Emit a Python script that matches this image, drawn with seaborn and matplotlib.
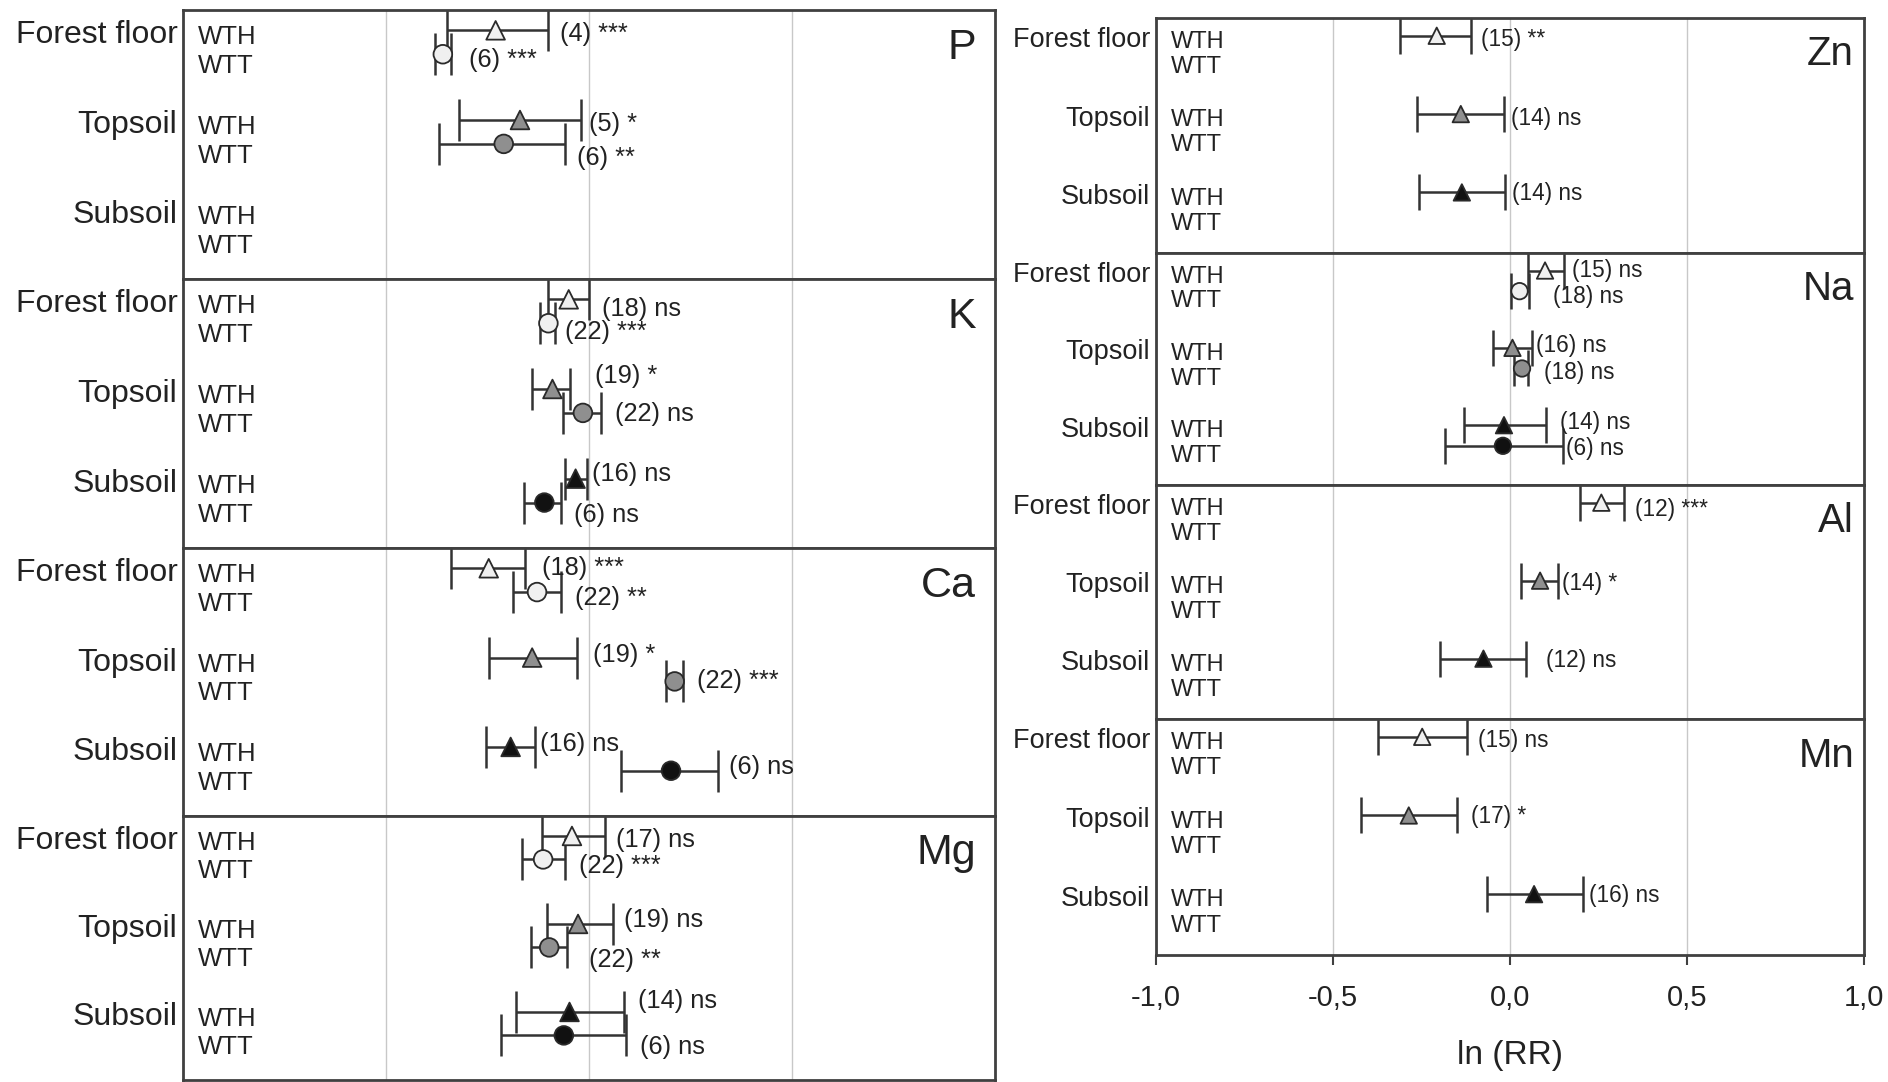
import numpy as np
import pandas as pd
import matplotlib
matplotlib.use('Agg')
import matplotlib.pyplot as plt
import seaborn as sns

nan = np.nan

# ---- data (ln RR, 95% CI) ----
layers = ['Forest floor', 'Topsoil', 'Subsoil']
treatments = ['WTH', 'WTT']
# row order: FF-WTH, FF-WTT, Top-WTH, Top-WTT, Sub-WTH, Sub-WTT

P_mean = [-0.23, -0.36, -0.17, -0.21, nan, nan]
P_lo   = [-0.35, -0.38, -0.32, -0.37, nan, nan]
P_hi   = [-0.10, -0.34, -0.02, -0.06, nan, nan]
P_n    = [4, 6, 5, 6, 0, 0]
P_sig  = ['***', '***', '*', '**', '', '']

K_mean = [-0.05, -0.10, -0.09, -0.015, -0.033, -0.11]
K_lo   = [-0.10, -0.12, -0.14, -0.063, -0.06, -0.16]
K_hi   = [0.00, -0.083, -0.048, 0.03, -0.006, -0.068]
K_n    = [18, 22, 19, 22, 16, 6]
K_sig  = ['ns', '***', '*', 'ns', 'ns', 'ns']

Ca_mean = [-0.247, -0.128, -0.14, 0.211, -0.193, 0.202]
Ca_lo   = [-0.339, -0.188, -0.247, 0.19, -0.253, 0.08]
Ca_hi   = [-0.158, -0.068, -0.03, 0.232, -0.134, 0.318]
Ca_n    = [18, 22, 19, 22, 16, 6]
Ca_sig  = ['***', '**', '*', '***', 'ns', 'ns']

Mg_mean = [-0.042, -0.113, -0.027, -0.098, -0.048, -0.062]
Mg_lo   = [-0.116, -0.164, -0.104, -0.143, -0.18, -0.217]
Mg_hi   = [0.039, -0.06, 0.06, -0.054, 0.086, 0.092]
Mg_n    = [17, 22, 19, 22, 14, 6]
Mg_sig  = ['ns', '***', 'ns', '**', 'ns', 'ns']

Zn_mean = [-0.207, nan, -0.139, nan, -0.136, nan]
Zn_lo   = [-0.31, nan, -0.262, nan, -0.258, nan]
Zn_hi   = [-0.109, nan, -0.017, nan, -0.014, nan]
Zn_n    = [15, 0, 14, 0, 14, 0]
Zn_sig  = ['**', '', 'ns', '', 'ns', '']

Na_mean = [0.099, 0.027, 0.007, 0.034, -0.017, -0.02]
Na_lo   = [0.051, 0.003, -0.048, 0.01, -0.129, -0.184]
Na_hi   = [0.153, 0.054, 0.061, 0.05, 0.102, 0.15]
Na_n    = [15, 18, 16, 18, 14, 6]
Na_sig  = ['ns', 'ns', 'ns', 'ns', 'ns', 'ns']

Al_mean = [0.258, nan, 0.085, nan, -0.075, nan]
Al_lo   = [0.197, nan, 0.03, nan, -0.197, nan]
Al_hi   = [0.323, nan, 0.136, nan, 0.044, nan]
Al_n    = [12, 0, 14, 0, 12, 0]
Al_sig  = ['***', '', '*', '', 'ns', '']

Mn_mean = [-0.248, nan, -0.286, nan, 0.068, nan]
Mn_lo   = [-0.374, nan, -0.422, nan, -0.065, nan]
Mn_hi   = [-0.122, nan, -0.15, nan, 0.207, nan]
Mn_n    = [15, 0, 17, 0, 16, 0]
Mn_sig  = ['ns', '', '*', '', 'ns', '']

elements_left = ['P', 'K', 'Ca', 'Mg']
elements_right = ['Zn', 'Na', 'Al', 'Mn']
data = {
    'P': (P_mean, P_lo, P_hi, P_n, P_sig),
    'K': (K_mean, K_lo, K_hi, K_n, K_sig),
    'Ca': (Ca_mean, Ca_lo, Ca_hi, Ca_n, Ca_sig),
    'Mg': (Mg_mean, Mg_lo, Mg_hi, Mg_n, Mg_sig),
    'Zn': (Zn_mean, Zn_lo, Zn_hi, Zn_n, Zn_sig),
    'Na': (Na_mean, Na_lo, Na_hi, Na_n, Na_sig),
    'Al': (Al_mean, Al_lo, Al_hi, Al_n, Al_sig),
    'Mn': (Mn_mean, Mn_lo, Mn_hi, Mn_n, Mn_sig),
}

# label nudges in points (dx right of CI end, dy downward)
lab_dx = {'P': [8, 13, 6, 9, 0, 0], 'K': [9, 7, 18, 10, 4, 9],
          'Ca': [12, 10, 12, 10, 4, 8], 'Mg': [8, 10, 8, 16, 10, 10],
          'Zn': [7, 0, 5, 0, 5, 0], 'Na': [6, 17, 3, 12, 10, 2],
          'Al': [8, 0, 3, 0, 15, 0], 'Mn': [8, 0, 10, 0, 4, 0]}
lab_dy = {'P': [3, 4, 3, 10, 0, 0], 'K': [7, 6, -9, 1, -3, 9],
          'Ca': [0, 4, -2, 0, -2, -3], 'Mg': [3, 5, -3, 9, -8, 8],
          'Zn': [3, 0, 3, 0, 1, 0], 'Na': [0, 4, -2, 3, -2, 2],
          'Al': [5, 0, 2, 0, 1, 0], 'Mn': [3, 0, 1, 0, 1, 0]}

fills = {'Forest floor': '#f0f0f0', 'Topsoil': '#8f8f8f', 'Subsoil': '#111111'}
shapes = {'WTH': '^', 'WTT': 'o'}

sns.set_style('white')
plt.rcParams['font.family'] = ['Liberation Sans', 'DejaVu Sans']

W, H = 1888, 1082
fig = plt.figure(figsize=(W / 100, H / 100), dpi=100)

left_boxes = [(10, 279), (279, 548), (548, 816), (816, 1080)]
right_boxes = [(18, 253), (253, 485), (485, 719), (719, 955)]


def panel(el, x0, x1, top, bot, big):
    ax = fig.add_axes([x0 / W, 1 - bot / H, (x1 - x0) / W, (bot - top) / H])
    mean, lo, hi, n, sig = data[el]
    rows = []
    for i in range(6):
        g, t = i // 2, i % 2
        rows.append({'layer': layers[g], 'treat': treatments[t],
                     'mean': mean[i], 'lo': lo[i], 'hi': hi[i],
                     'n': n[i], 'sig': sig[i], 'i': i,
                     'y': 3 * g + (0.68 if t == 0 else 1.48)})
    df = pd.DataFrame(rows).dropna(subset=['mean'])

    ax.errorbar(df['mean'], df['y'], xerr=[df['mean'] - df['lo'], df['hi'] - df['mean']],
                fmt='none', ecolor='#333333', elinewidth=1.8, capsize=15 if big else 13,
                capthick=1.8, zorder=2)
    sns.scatterplot(data=df, x='mean', y='y', hue='layer', style='treat',
                    palette=fills, markers=shapes, s=180 if big else 140,
                    edgecolor='#2a2a2a', linewidth=1.3, legend=False, ax=ax, zorder=3)

    fs_ann = 18.3 if big else 16.3
    for _, r in df.iterrows():
        k = int(r['i'])
        ax.annotate(f"({int(r['n'])}) {r['sig']}", xy=(r['hi'], r['y']),
                    xytext=(lab_dx[el][k], -lab_dy[el][k]), textcoords='offset points',
                    ha='left', va='center', fontsize=fs_ann, color='#222222')

    # row labels
    fs_grp = 23 if big else 19.5
    fs_tr = 18.5 if big else 17
    for g, name in enumerate(layers):
        ax.annotate(name, xy=(0, 3 * g + 0.85), xycoords=('axes fraction', 'data'),
                    xytext=(-4, 0), textcoords='offset points', ha='right', va='center',
                    fontsize=fs_grp, color='#222222')
        for t, tr in enumerate(treatments):
            ax.annotate(tr, xy=(0, 3 * g + (0.92 if t == 0 else 1.88)),
                        xycoords=('axes fraction', 'data'), xytext=(11, 0),
                        textcoords='offset points', ha='left', va='center',
                        fontsize=fs_tr, color='#222222')

    ax.text(0.977 if big else 0.986, 0.86 if big else 0.845, el, transform=ax.transAxes,
            ha='right', va='center', fontsize=31 if big else 29, color='#222222')

    ax.set_xlim(-1, 1)
    ax.set_ylim(9, 0)
    ax.set_yticks([])
    ax.set_xlabel('')
    ax.set_ylabel('')
    for s in ax.spines.values():
        s.set_visible(True)
        s.set_color('#404040')
        s.set_linewidth(2.0)
    return ax


for el, (top, bot) in zip(elements_left, left_boxes):
    ax = panel(el, 183, 995, top, bot, True)
    ax.set_xticks([-0.5, 0, 0.5])
    ax.tick_params(axis='x', length=0, labelbottom=False)
    ax.grid(axis='x', color='#c8c8c8', lw=1.0)

for el, (top, bot) in zip(elements_right, right_boxes):
    ax = panel(el, 1156, 1864, top, bot, False)
    ax.set_xticks([-1, -0.5, 0, 0.5, 1])
    ax.grid(axis='x', color='#c8c8c8', lw=1.0)
    if el == 'Mn':
        ax.set_xticklabels(['-1,0', '-0,5', '0,0', '0,5', '1,0'])
        ax.tick_params(axis='x', length=7, width=1.5, color='#404040', pad=14,
                       labelsize=21, labelcolor='#222222', bottom=True)
        ax.set_xlabel('ln (RR)', fontsize=24, color='#222222', labelpad=20)
    else:
        ax.tick_params(axis='x', length=0, labelbottom=False)

fig.savefig('out.png', dpi=100, facecolor='white')
